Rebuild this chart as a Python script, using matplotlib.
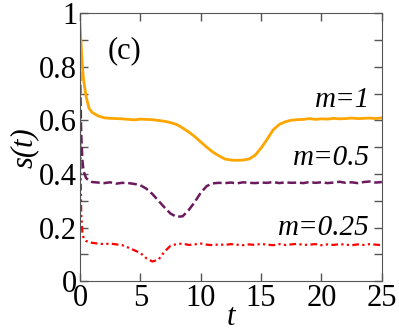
import numpy as np
import matplotlib
matplotlib.use('Agg')
import matplotlib.pyplot as plt
from matplotlib import font_manager as fm

FONT = 'Liberation Serif'
plt.rcParams['font.family'] = FONT
reg = fm.FontProperties(fname=fm.findfont(fm.FontProperties(family=FONT)), size=22)
ita = fm.FontProperties(fname=fm.findfont(fm.FontProperties(family=FONT, style='italic')), size=21)
ita22 = fm.FontProperties(fname=fm.findfont(fm.FontProperties(family=FONT, style='italic')), size=22)

t = [0, 0.1, 0.2, 0.3, 0.5, 0.75, 1, 1.5, 2, 2.5, 3, 3.5, 4, 4.5, 5, 5.5, 6, 6.5,
     7, 7.5, 8, 8.5, 9, 9.5, 10, 10.5, 11, 11.5, 12, 12.5, 13, 13.5, 14, 14.5,
     15, 15.5, 16, 16.5, 17, 17.5, 18, 18.5, 19, 19.5, 20, 20.5, 21, 21.5, 22,
     22.5, 23, 23.5, 24, 24.5, 25]

s_m1 = [0.96, 0.88, 0.80, 0.75, 0.69, 0.645, 0.63, 0.617, 0.61, 0.608, 0.607,
        0.606, 0.604, 0.602, 0.605, 0.604, 0.603, 0.600, 0.597, 0.592, 0.585,
        0.572, 0.557, 0.540, 0.520, 0.500, 0.482, 0.468, 0.456, 0.452, 0.451,
        0.452, 0.456, 0.470, 0.497, 0.530, 0.565, 0.585, 0.595, 0.601, 0.603,
        0.604, 0.607, 0.604, 0.606, 0.605, 0.608, 0.606, 0.607, 0.609, 0.607,
        0.608, 0.609, 0.607, 0.610]

s_m05 = [0.78, 0.55, 0.45, 0.41, 0.385, 0.375, 0.370, 0.368, 0.366, 0.369,
         0.364, 0.367, 0.366, 0.363, 0.358, 0.345, 0.325, 0.300, 0.275, 0.252,
         0.240, 0.242, 0.265, 0.295, 0.330, 0.355, 0.365, 0.367, 0.366, 0.368,
         0.365, 0.369, 0.367, 0.366, 0.368, 0.367, 0.370, 0.366, 0.369, 0.367,
         0.368, 0.366, 0.370, 0.367, 0.369, 0.366, 0.368, 0.371, 0.367, 0.369,
         0.366, 0.370, 0.372, 0.368, 0.370]

s_m025 = [0.60, 0.25, 0.18, 0.16, 0.150, 0.145, 0.143, 0.140, 0.138, 0.140,
          0.137, 0.134, 0.125, 0.115, 0.105, 0.085, 0.073, 0.080, 0.110, 0.132,
          0.138, 0.140, 0.135, 0.137, 0.140, 0.136, 0.134, 0.137, 0.135, 0.138,
          0.136, 0.134, 0.137, 0.135, 0.139, 0.136, 0.134, 0.138, 0.135, 0.137,
          0.139, 0.135, 0.136, 0.138, 0.134, 0.137, 0.135, 0.138, 0.136, 0.134,
          0.137, 0.135, 0.138, 0.136, 0.134]

fig = plt.figure(figsize=(3.99, 3.35), dpi=100)
ax = fig.add_axes([0.2005, 0.161, 0.7565, 0.799])

ax.plot(t, s_m1, color='#FFA500', lw=2.0)
ax.plot(t, s_m05, color='#6B1A5E', lw=1.8, dashes=(3.5, 1.5))
ax.plot(t, s_m025, color='#FF0000', lw=1.6, dashes=(3, 1.5, 1, 1.5, 1, 1.5))

ax.set_xlim(0, 25)
ax.set_ylim(0, 1)
ax.set_xticks([0, 5, 10, 15, 20, 25])
ax.set_yticks([0, 0.2, 0.4, 0.6, 0.8, 1])
ax.set_yticks(np.arange(0.1, 1.0, 0.2), minor=True)
ax.tick_params(which='both', direction='in', top=True, right=True,
               length=6, width=1, color='#555555', labelsize=22, pad=2)
ax.set_xticklabels(['0', '5', '10', '15', '20', '25'], fontproperties=reg)
ax.set_yticklabels(['0', '0.2', '0.4', '0.6', '0.8', '1'], fontproperties=reg)
for sp in ax.spines.values():
    sp.set_color('#555555')

ax.set_xlabel('t', fontproperties=ita22, labelpad=-7)
ax.set_ylabel('s(t)', fontproperties=ita22, labelpad=0)

ax.text(0.09, 0.86, '(c)', transform=ax.transAxes, fontproperties=reg,
        va='center')
ax.text(0.96, 0.675, 'm=1', transform=ax.transAxes, fontproperties=ita,
        ha='right', va='center')
ax.text(0.96, 0.46, 'm=0.5', transform=ax.transAxes, fontproperties=ita,
        ha='right', va='center')
ax.text(0.96, 0.20, 'm=0.25', transform=ax.transAxes, fontproperties=ita,
        ha='right', va='center')

fig.savefig('out.png', dpi=100)
